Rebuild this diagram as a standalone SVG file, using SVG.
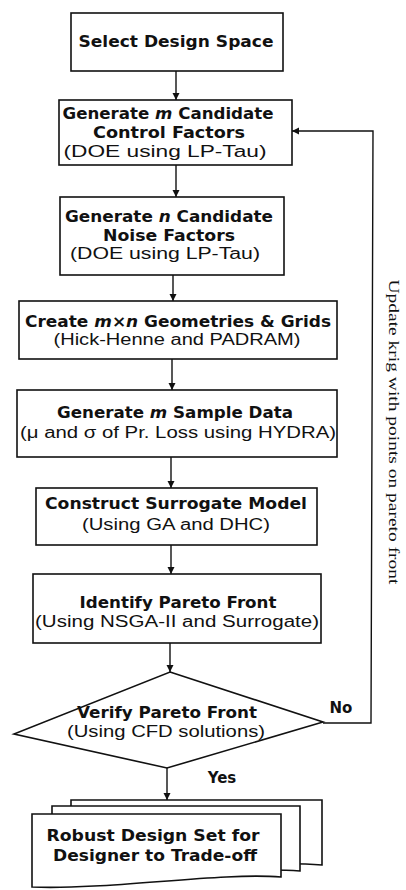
<svg xmlns="http://www.w3.org/2000/svg" width="406" height="890" viewBox="0 0 406 890">
<style>
.box{fill:#fff;stroke:#111;stroke-width:1.6}
.ln{fill:none;stroke:#111;stroke-width:1.4}
.b{font-family:"DejaVu Sans",Verdana,sans-serif;font-weight:bold;font-size:15px;fill:#111;text-anchor:middle}
.r{font-family:"Liberation Sans",Arial,sans-serif;font-size:16px;fill:#111;text-anchor:middle}
.s{font-family:"Liberation Serif","Times New Roman",serif;font-size:15px;fill:#111;text-anchor:middle}
</style>
<defs>
<marker id="ah" markerUnits="userSpaceOnUse" markerWidth="8" markerHeight="8" refX="7" refY="4" orient="auto">
<path d="M0,0.5 L7,4 L0,7.5 z" fill="#111"/>
</marker>
</defs>
<rect width="406" height="890" fill="#fff"/>
<g id="connectors">
<line class="ln" x1="176" y1="71" x2="176" y2="100" marker-end="url(#ah)"/>
<line class="ln" x1="176" y1="165" x2="176" y2="197" marker-end="url(#ah)"/>
<line class="ln" x1="173" y1="275" x2="173" y2="301" marker-end="url(#ah)"/>
<line class="ln" x1="172" y1="359" x2="172" y2="390" marker-end="url(#ah)"/>
<line class="ln" x1="171" y1="457" x2="171" y2="488" marker-end="url(#ah)"/>
<line class="ln" x1="171" y1="545" x2="171" y2="574" marker-end="url(#ah)"/>
<line class="ln" x1="170" y1="643" x2="170" y2="672" marker-end="url(#ah)"/>
<line class="ln" x1="167" y1="768" x2="167" y2="800" marker-end="url(#ah)"/>
<polyline class="ln" points="323,723 371,723 373,131 292,131" marker-end="url(#ah)"/>
<text class="b" x="341" y="713" font-size="14">No</text>
<text class="b" x="222" y="783" font-size="14">Yes</text>
<text class="s" transform="translate(389,432) rotate(90)" textLength="305" lengthAdjust="spacingAndGlyphs">Update krig with points on pareto front</text>
</g>
<g id="n1">
<rect class="box" x="71" y="13" width="212" height="58"/>
<text class="b" x="176" y="47" textLength="195" lengthAdjust="spacingAndGlyphs">Select Design Space</text>
</g>
<g id="n2">
<rect class="box" x="59" y="100" width="233" height="65"/>
<text class="b" x="168" y="119" textLength="211" lengthAdjust="spacingAndGlyphs">Generate <tspan font-style="italic">m</tspan> Candidate</text>
<text class="b" x="169" y="138" textLength="152" lengthAdjust="spacingAndGlyphs">Control Factors</text>
<text class="r" x="165" y="157" textLength="203" lengthAdjust="spacingAndGlyphs">(DOE using LP-Tau)</text>
</g>
<g id="n3">
<rect class="box" x="60" y="197" width="224" height="78"/>
<text class="b" x="169" y="222" textLength="208" lengthAdjust="spacingAndGlyphs">Generate <tspan font-style="italic">n</tspan> Candidate</text>
<text class="b" x="169" y="241" textLength="132" lengthAdjust="spacingAndGlyphs">Noise Factors</text>
<text class="r" x="165" y="259" textLength="190" lengthAdjust="spacingAndGlyphs">(DOE using LP-Tau)</text>
</g>
<g id="n4">
<rect class="box" x="19" y="301" width="318" height="58"/>
<text class="b" x="178" y="327" textLength="306" lengthAdjust="spacingAndGlyphs">Create <tspan font-style="italic">m×n</tspan> Geometries &amp; Grids</text>
<text class="r" x="177" y="345" textLength="247" lengthAdjust="spacingAndGlyphs">(Hick-Henne and PADRAM)</text>
</g>
<g id="n5">
<rect class="box" x="17" y="390" width="320" height="67"/>
<text class="b" x="175" y="418" textLength="236" lengthAdjust="spacingAndGlyphs">Generate <tspan font-style="italic">m</tspan> Sample Data</text>
<text class="r" x="178" y="438" textLength="316" lengthAdjust="spacingAndGlyphs">(μ and σ of Pr. Loss using HYDRA)</text>
</g>
<g id="n6">
<rect class="box" x="36" y="488" width="281" height="57"/>
<text class="b" x="176" y="509" textLength="262" lengthAdjust="spacingAndGlyphs">Construct Surrogate Model</text>
<text class="r" x="176" y="530" textLength="188" lengthAdjust="spacingAndGlyphs">(Using GA and DHC)</text>
</g>
<g id="n7">
<rect class="box" x="33" y="574" width="288" height="69"/>
<text class="b" x="178" y="608" textLength="197" lengthAdjust="spacingAndGlyphs">Identify Pareto Front</text>
<text class="r" x="177" y="627" textLength="284" lengthAdjust="spacingAndGlyphs">(Using NSGA-II and Surrogate)</text>
</g>
<g id="n8">
<polygon class="box" points="170,672 323,722 167,768 14,734"/>
<text class="b" x="167" y="718" textLength="180" lengthAdjust="spacingAndGlyphs">Verify Pareto Front</text>
<text class="r" x="166" y="737" textLength="198" lengthAdjust="spacingAndGlyphs">(Using CFD solutions)</text>
</g>
<g id="n9">
<path class="box" d="M71,800 H322 V865 C260,860 140,872 71,874 Z"/>
<path class="box" d="M52,806 H300 V871 C240,866 120,880 52,881 Z"/>
<path class="box" d="M32,814 H281 V877 C220,872 110,890 32,887 Z"/>
<text class="b" x="153" y="841" textLength="213" lengthAdjust="spacingAndGlyphs">Robust Design Set for</text>
<text class="b" x="155" y="861" textLength="204" lengthAdjust="spacingAndGlyphs">Designer to Trade-off</text>
</g>
</svg>
